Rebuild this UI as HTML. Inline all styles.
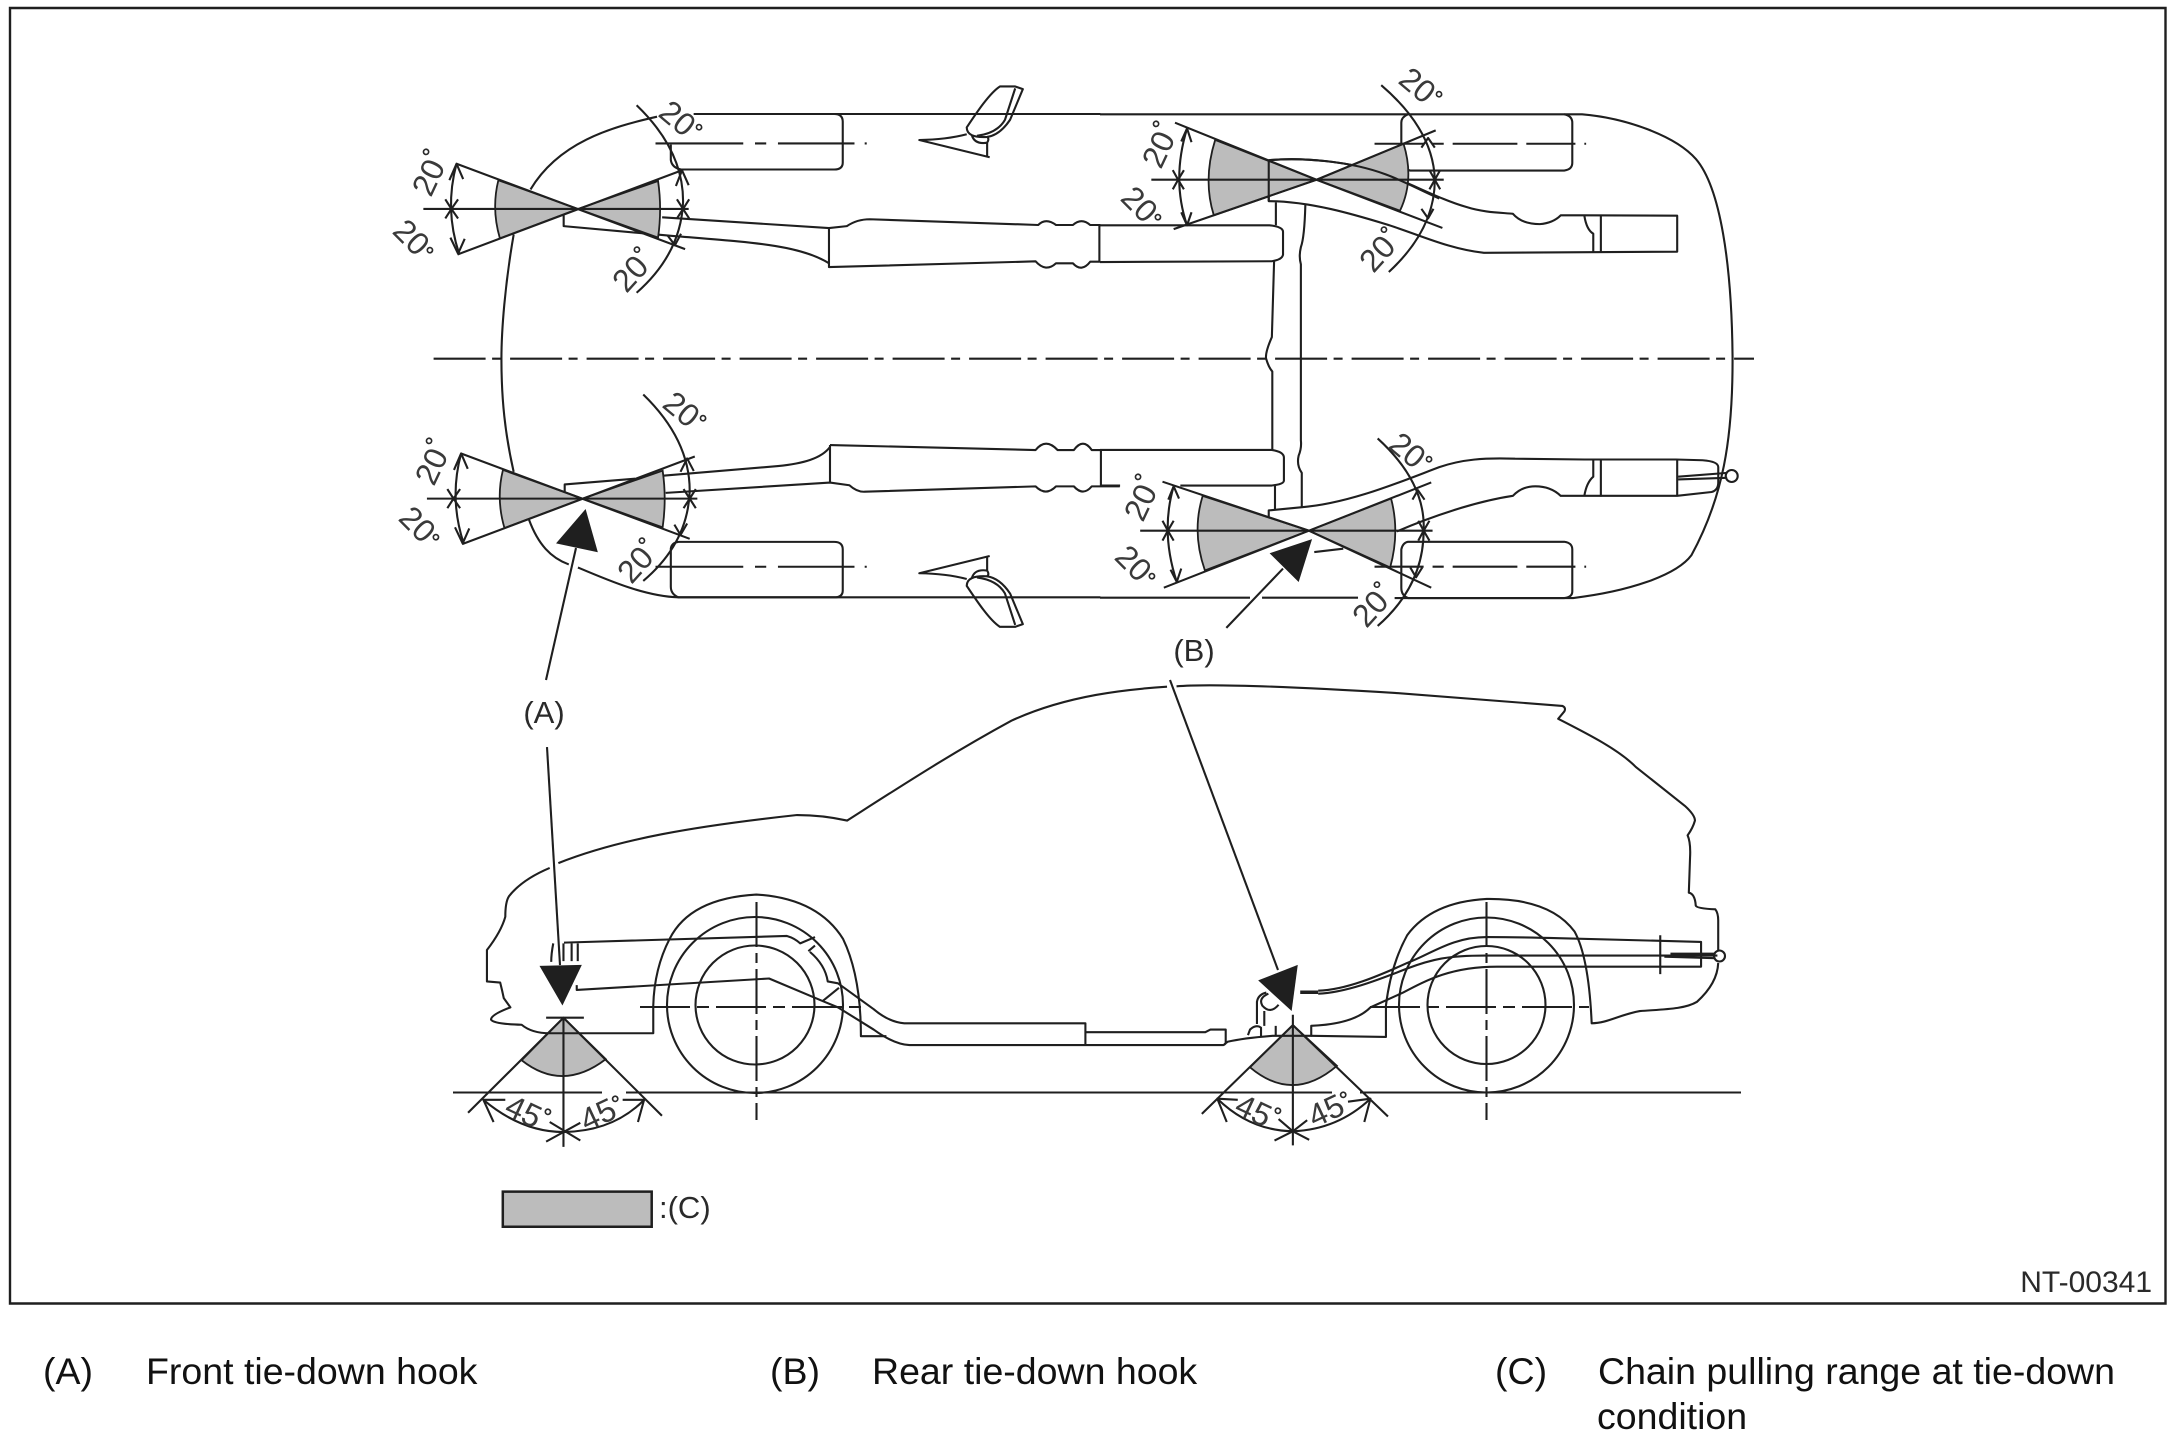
<!DOCTYPE html>
<html><head><meta charset="utf-8"><title>Tie-down diagram</title>
<style>
html,body{margin:0;padding:0;background:#fff}
svg{display:block}
path,line,polygon,circle,ellipse,rect{vector-effect:non-scaling-stroke}
.s{fill:none;stroke:#1f1f1f;stroke-width:2.1;stroke-linejoin:round}
.g{fill:#bcbcbc;stroke:#1f1f1f;stroke-width:1.8}
.k{fill:#1f1f1f;stroke:none}
text{font-family:"Liberation Sans",sans-serif;fill:#2a2a2a}
.d text{font-size:32px;fill:#3a3a3a}
.d tspan{font-size:22px;font-weight:bold;fill:#2a2a2a}
.l{font-size:31px}
.b{font-size:37.500px;fill:#111}
</style></head><body>
<svg width="2176" height="1436" viewBox="0 0 2176 1436" xmlns="http://www.w3.org/2000/svg">
<rect width="2176" height="1436" fill="#fff"/>
<rect x="10" y="8" width="2155.500" height="1295.500" fill="none" stroke="#1f1f1f" stroke-width="2.400"/>

<!-- center line -->
<path class="s" d="M433.600,358.700H1754" stroke-dasharray="52 6.500 9 9"/>

<!-- top view: front -->
<g transform="translate(380,70) scale(.5102,.3827)">
  <g class="s">
    <path d="M615,115H1412"/>
    <path d="M543,122C450,150 350,190 295,312"/>
    <path d="M262,430C245,560 238,680 238,755C238,860 245,950 262,1050"/>
    <path d="M292,1175C310,1240 335,1275 370,1292"/>
    <path d="M388,1300C450,1335 520,1375 585,1378H1412"/>
    <path d="M615,115H890Q907,115 907,135V242Q907,260 890,260H590Q572,255 570,235V195"/>
    <path d="M585,1233H890Q907,1233 907,1253V1360Q907,1378 890,1378H585Q570,1370 570,1350V1250Q572,1235 585,1233Z"/>
    <path d="M540,192H712M735,192H757M780,192H930M950,192H954"/>
    <path d="M540,1298H712M735,1298H757M780,1298H930M950,1298H954"/>
    <!-- upper exhaust -->
    <path d="M553,385L880,413L915,408Q935,390 960,390L1290,405Q1305,385 1325,405H1358Q1375,385 1392,405H1412"/>
    <path d="M360,380V408L560,432C720,450 820,455 880,505"/>
    <path d="M880,413V515L1285,500Q1305,530 1325,505H1358Q1375,530 1392,501L1412,501"/>
    <path d="M1410,405V501"/>
    <!-- lower exhaust -->
    <path d="M555,1060L780,1035C830,1028 865,1015 882,985"/>
    <path d="M882,980L1285,993Q1305,960 1328,993H1360Q1378,960 1395,993H1413"/>
    <path d="M882,980V1078"/>
    <path d="M362,1110V1083L500,1068"/>
    <path d="M560,1105L882,1078L920,1085Q935,1103 950,1102L1285,1088Q1305,1115 1325,1088H1360Q1378,1115 1395,1088H1450"/>
    <path d="M1413,993V1086"/>
    <!-- mirrors -->
    <g>
      <path d="M1150,150C1170,110 1195,60 1215,43L1245,43L1260,50L1235,130Q1215,170 1190,175Q1150,178 1150,150Z"/>
      <path d="M1245,48L1225,130Q1210,165 1170,172"/>
      <path d="M1195,228L1057,183Q1110,182 1150,168"/>
      <path d="M1190,228V190M1160,170Q1165,195 1190,190Q1195,180 1190,175"/>
    </g>
    <g transform="translate(0,1498) scale(1,-1)">
      <path d="M1150,150C1170,110 1195,60 1215,43L1245,43L1260,50L1235,130Q1215,170 1190,175Q1150,178 1150,150Z"/>
      <path d="M1245,48L1225,130Q1210,165 1170,172"/>
      <path d="M1195,228L1057,183Q1110,182 1150,168"/>
      <path d="M1190,228V190M1160,170Q1165,195 1190,190Q1195,180 1190,175"/>
    </g>
  </g>
  <!-- butterfly 1 -->
  <g transform="translate(388,363)">
    <path class="g" d="M0,0L-156,-75Q-170,0 -153,77Z"/>
    <path class="g" d="M0,0L157,-73Q165,0 157,75Z"/>
    <g class="s">
      <path d="M-238,-118L210,105M-236,119L204,-101M-303,0H217"/>
      <path d="M-238,-118Q-262,0 -233,117"/>
      <path d="M115,-271Q207,-153 206,-18Q202,117 115,219"/>
      <path d="M-252,-75L-238,-118L-225,-78M-250,75L-235,117L-222,78"/>
      <path d="M-260,-25L-248,0L-235,-25M-260,25L-248,0L-235,25"/>
      <path d="M194,-25L206,0L218,-25M194,25L206,0L218,25"/>
      <path d="M192,-60L204,-101L217,-62M175,68L190,95L202,65"/>
    </g>
  </g>
  <!-- butterfly 2 -->
  <g transform="translate(397,1120)">
    <path class="g" d="M0,0L-156,-75Q-170,0 -153,77Z"/>
    <path class="g" d="M0,0L157,-73Q165,0 157,75Z"/>
    <g class="s">
      <path d="M-238,-118L210,105M-236,119L220,-110M-305,0H225"/>
      <path d="M-238,-118Q-262,0 -233,117"/>
      <path d="M119,-272Q211,-153 210,-18Q206,117 119,215"/>
      <path d="M-252,-75L-238,-118L-225,-78M-250,75L-235,117L-222,78"/>
      <path d="M-265,-25L-253,0L-240,-25M-265,25L-253,0L-240,25"/>
      <path d="M198,-25L210,0L222,-25M198,25L210,0L222,25"/>
      <path d="M192,-70L205,-105L218,-72M180,68L192,95L205,65"/>
    </g>
  </g>
  <polygon class="k" points="403,1147 345,1237 427,1260"/>
</g>

<!-- top view: rear -->
<g transform="translate(1100,50) scale(.4464,.3827)">
  <g class="s">
    <path d="M0,168H1080C1180,178 1290,225 1335,285C1390,360 1415,560 1417,800C1418,1020 1395,1170 1325,1320C1290,1375 1180,1415 1060,1432H660"/>
    <path d="M0,1431H336M363,1431H578"/>
    <path d="M690,168Q675,175 675,190V295Q680,312 695,315H1040Q1058,312 1058,295V190Q1058,172 1040,168"/>
    <path d="M690,1285H1040Q1058,1288 1058,1305V1415Q1058,1430 1040,1432H690Q675,1425 675,1405V1305Q678,1288 690,1285Z"/>
    <path d="M615,245H725M745,245H770M790,245H935M955,245H1065M1085,245H1089"/>
    <path d="M615,1350H725M745,1350H770M790,1350H935M955,1350H1065M1085,1350H1089"/>
    <!-- rear upper exhaust -->
    <path d="M378,288C450,280 560,290 640,325C700,350 760,390 820,410C860,425 900,425 925,428Q945,455 985,455Q1015,452 1032,432H1085L1293,433V527L860,530C780,520 710,480 640,455C570,430 470,395 378,395V288"/>
    <path d="M1122,433V527M1105,527V480Q1090,470 1085,433"/>
    <!-- cross member -->
    <path d="M394,398V458M460,405Q458,490 450,515Q445,540 450,560V1020Q452,1040 445,1060Q440,1085 452,1105V1195"/>
    <path d="M390,552L385,750Q370,790 372,806Q378,830 386,840V1045"/>
    <path d="M392,1135V1200"/>
    <!-- muffler ends -->
    <path d="M0,458H380Q410,462 410,475V535Q408,548 385,552L0,554"/>
    <path d="M0,1045H385Q412,1050 412,1065V1125Q412,1135 385,1138H180M45,1138H0"/>
    <!-- rear lower exhaust -->
    <path d="M378,1220V1203L450,1195C560,1185 680,1125 760,1090C810,1070 860,1065 930,1068L1085,1070H1290L1350,1072Q1385,1075 1385,1090V1130Q1385,1150 1370,1155L1293,1165H1032Q1010,1140 975,1140Q945,1140 925,1165C840,1180 740,1220 665,1258"/>
    <path d="M480,1312L545,1303"/>
    <path d="M1122,1070V1167M1293,1070V1165M1105,1070V1115Q1090,1130 1085,1165"/>
    <path d="M1295,1115L1405,1105M1295,1122L1405,1118"/>
  </g>
  <!-- butterfly 3 -->
  <g transform="translate(485,339)">
    <path class="g" d="M0,0L-227,-104Q-255,0 -230,93Z"/>
    <path class="g" d="M0,0L195,-94Q220,0 187,81Z"/>
    <g class="s">
      <path d="M-317,-149L0,0L282,126M-320,129L0,0L267,-129M-370,0H285"/>
      <path d="M-290,-134Q-325,0 -290,119"/>
      <path d="M145,-247Q262,-130 265,0Q265,130 162,241"/>
      <path d="M-303,-100L-290,-134L-280,-98M-303,85L-290,119L-280,85"/>
      <path d="M-322,-25L-310,0L-297,-25M-322,25L-310,0L-297,25"/>
      <path d="M235,-84L250,-109L265,-84M253,-25L265,0L277,-25M253,25L265,0L277,25M235,76L250,101L262,76"/>
    </g>
  </g>
  <path class="s" d="M378,288C450,280 560,290 640,325C680,342 720,368 760,388M378,288V395"/>
  <!-- butterfly 4 -->
  <path class="g" d="M468,1256L230,1165Q205,1260 235,1360Z"/>
  <path class="g" d="M468,1256L652,1172Q672,1260 650,1352Z"/>
  <g class="s">
    <path d="M140,1128L468,1256L742,1405M143,1405L468,1256L742,1130M90,1256H745"/>
    <path d="M165,1140Q135,1260 172,1390"/>
    <path d="M622,1015Q730,1130 725,1256Q725,1400 622,1505"/>
    <path d="M153,1175L165,1140L177,1172M158,1358L172,1390L182,1355"/>
    <path d="M140,1230L152,1256L165,1230M140,1282L152,1256L165,1282"/>
    <path d="M700,1175L712,1150L727,1175M713,1230L725,1256L738,1230M713,1282L725,1256L738,1282M695,1352L708,1378L722,1352"/>
  </g>
  <polygon class="k" points="380,1315 475,1278 445,1390"/>
  <path class="s" d="M410,1355L283,1510"/>
</g>
<circle class="s" cx="1731.700" cy="476" r="6" fill="#fff"/>

<!-- leader line A top -->
<path class="s" d="M576,548L546,680"/>

<!-- side view: front -->
<g transform="translate(440,680) scale(.5102,.3699)">
  <path class="g" d="M242,913L160,1028Q240,1115 325,1025Z"/>
  <g class="s">
    <path d="M215,508Q160,540 135,585Q128,600 128,640Q120,680 92,730V815L118,818Q122,840 125,860L138,885Q100,905 100,918Q105,930 160,932Q180,955 215,955H418V880Q420,780 450,700Q490,590 620,580Q740,590 790,700Q825,800 825,963H875"/>
    <path d="M232,495C350,430 500,395 700,365Q750,365 798,380C900,290 1000,200 1120,110C1230,40 1350,25 1425,18"/>
    <!-- floor -->
    <path d="M243,710L680,692Q695,698 706,712L735,695"/>
    <path d="M722,733L735,718M725,735Q755,770 760,815L780,820Q820,860 850,890Q880,925 910,928H1265V985"/>
    <path d="M268,825V838L645,807L750,868L780,885L850,945Q890,985 920,987H1535Q1540,985 1540,980V945H1510L1500,952H1265"/>
    <path d="M750,868L782,832"/>
    <path d="M242,712V760M270,712V760M258,712V760M222,712Q218,740 218,762"/>
    <!-- wedge -->
    <path d="M208,913H282M55,1170L242,913L435,1178M242,913V1262"/>
    <path d="M85,1135Q160,1222 242,1222Q340,1220 400,1135"/>
    <path d="M128,1135H85L105,1195M358,1135L400,1135L388,1195"/>
    <path d="M208,1248L275,1197M275,1245L215,1195"/>
  </g>
  <polygon class="k" points="195,773 278,770 240,880"/>
</g>

<!-- side view: rear -->
<g transform="translate(1150,680) scale(.4082,.3699)">
  <path class="g" d="M350,933L245,1047Q350,1145 458,1043Z"/>
  <g class="s">
    <path d="M65,17C140,10 300,15 600,35L1010,70Q1020,75 1015,85L1000,105C1080,150 1150,190 1190,235L1310,340Q1335,365 1335,380Q1330,400 1317,420Q1325,440 1323,480L1320,575Q1335,578 1337,610Q1340,618 1385,620Q1392,630 1392,650V730"/>
    <path d="M1392,765Q1390,820 1340,870C1310,890 1260,890 1200,895C1150,905 1120,928 1082,928Q1075,750 1040,680Q980,590 825,592Q690,600 630,690Q590,770 578,880V965L395,962"/>
    <path d="M182,985L190,978Q230,968 300,962H395V935Q500,930 540,885Q590,860 620,845C680,810 740,775 850,775H1350V708L1000,698Q900,695 825,695C740,695 690,740 630,765C560,800 480,838 412,840"/>
    <path d="M412,848C480,845 560,810 630,780C690,755 730,745 820,745H1390"/>
    <path d="M1250,690V795M1275,740H1385M1260,748L1385,752"/>
    <path d="M285,845Q265,850 262,870V930M280,895V935M290,848Q265,860 275,880Q295,905 315,878"/>
    <path d="M240,960L245,945Q260,930 272,940V963M308,935V962"/>
    <!-- wedge -->
    <path d="M127,1173L350,933L583,1180M350,905V1258"/>
    <path d="M165,1132Q245,1218 350,1220Q460,1215 540,1132"/>
    <path d="M215,1135L165,1132L188,1195M485,1140L540,1132L525,1195"/>
    <path d="M305,1245L350,1220L390,1243M315,1187L350,1220L385,1190"/>
  </g>
  <path d="M368,844H412" fill="none" stroke="#1f1f1f" stroke-width="3.500"/>
  <polygon class="k" points="265,812 362,770 347,895"/>
</g>

<!-- wheels, ground, leaders -->
<g class="s">
  <circle cx="755" cy="1005" r="88"/>
  <circle cx="755" cy="1005" r="59.500"/>
  <circle cx="1486.500" cy="1005" r="87.500"/>
  <circle cx="1486.500" cy="1005" r="59"/>
  <path d="M640,1007H861" stroke-dasharray="50 7 12 7"/>
  <path d="M1370,1007H1589" stroke-dasharray="50 7 12 7"/>
  <path d="M756.500,902V1120" stroke-dasharray="45 6 10 6"/>
  <path d="M1486.500,902V1120" stroke-dasharray="45 6 10 6"/>
  <path d="M453,1092.500H602M626,1092.500H1332M1360,1092.500H1741"/>
  <path d="M547,747L560,965"/>
  <path d="M1170,680L1278,970"/>
  <circle cx="1719.500" cy="956" r="5.500"/>
</g>

<!-- angle labels: top view -->
<g class="d">
<g transform="translate(428,177) rotate(-65)"><text x="-18" y="11.500">20<tspan dy="-12">°</tspan></text></g>
<g transform="translate(412,237) rotate(45)"><text x="-18" y="11.500">20<tspan dy="-3">°</tspan></text></g>
<g transform="translate(678,118) rotate(40)"><text x="-18" y="11.500">20<tspan dy="-6">°</tspan></text></g>
<g transform="translate(630,273) rotate(-48)"><text x="-18" y="11.500">20<tspan dy="-10">°</tspan></text></g>
<g transform="translate(431,466) rotate(-65)"><text x="-18" y="11.500">20<tspan dy="-12">°</tspan></text></g>
<g transform="translate(418,524) rotate(45)"><text x="-18" y="11.500">20<tspan dy="-3">°</tspan></text></g>
<g transform="translate(682,409) rotate(40)"><text x="-18" y="11.500">20<tspan dy="-6">°</tspan></text></g>
<g transform="translate(635,564) rotate(-48)"><text x="-18" y="11.500">20<tspan dy="-10">°</tspan></text></g>
<g transform="translate(1158,149) rotate(-65)"><text x="-18" y="11.500">20<tspan dy="-12">°</tspan></text></g>
<g transform="translate(1140,204) rotate(45)"><text x="-18" y="11.500">20<tspan dy="-3">°</tspan></text></g>
<g transform="translate(1418,85) rotate(40)"><text x="-18" y="11.500">20<tspan dy="-6">°</tspan></text></g>
<g transform="translate(1377,253) rotate(-48)"><text x="-18" y="11.500">20<tspan dy="-10">°</tspan></text></g>
<g transform="translate(1140,502) rotate(-65)"><text x="-18" y="11.500">20<tspan dy="-12">°</tspan></text></g>
<g transform="translate(1134,563) rotate(45)"><text x="-18" y="11.500">20<tspan dy="-3">°</tspan></text></g>
<g transform="translate(1408,450) rotate(40)"><text x="-18" y="11.500">20<tspan dy="-6">°</tspan></text></g>
<g transform="translate(1370,608) rotate(-48)"><text x="-18" y="11.500">20<tspan dy="-10">°</tspan></text></g>
<!-- side view -->
<g transform="translate(524,1111) rotate(25)"><text x="-18" y="11.500">45<tspan dy="-9">°</tspan></text></g>
<g transform="translate(598,1114) rotate(-25)"><text x="-18" y="11.500">45<tspan dy="-6">°</tspan></text></g>
<g transform="translate(1254,1110) rotate(25)"><text x="-18" y="11.500">45<tspan dy="-9">°</tspan></text></g>
<g transform="translate(1326,1110) rotate(-25)"><text x="-18" y="11.500">45<tspan dy="-6">°</tspan></text></g>
</g>

<text class="l" x="544" y="723" text-anchor="middle">(A)</text>
<text class="l" x="1194" y="661" text-anchor="middle">(B)</text>
<rect x="502.800" y="1191.600" width="148.900" height="35.200" fill="#bcbcbc" stroke="#1f1f1f" stroke-width="2.500"/>
<text class="l" x="659" y="1218">:(C)</text>
<text x="2152" y="1292" text-anchor="end" style="font-size:30px">NT-00341</text>

<text class="b" x="43" y="1384">(A)</text>
<text class="b" x="146" y="1384">Front tie-down hook</text>
<text class="b" x="770" y="1384">(B)</text>
<text class="b" x="872" y="1384">Rear tie-down hook</text>
<text class="b" x="1495" y="1384">(C)</text>
<text class="b" x="1598" y="1384">Chain pulling range at tie-down</text>
<text class="b" x="1597" y="1429">condition</text>
</svg>
</body></html>
